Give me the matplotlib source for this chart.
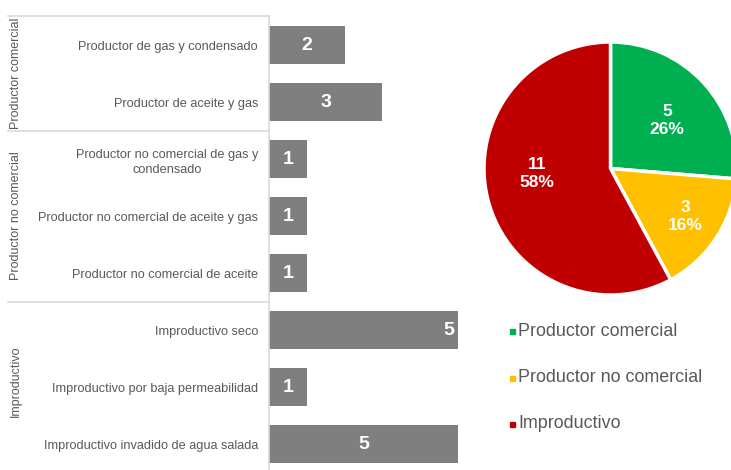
import numpy as np
import matplotlib.pyplot as plt
from matplotlib.patches import Rectangle

plt.rcParams['font.family'] = ['Liberation Sans', 'DejaVu Sans']

# datos
categorias = ['Productor de gas y condensado',
              'Productor de aceite y gas',
              'Productor no comercial de gas y\ncondensado',
              'Productor no comercial de aceite y gas',
              'Productor no comercial de aceite',
              'Improductivo seco',
              'Improductivo por baja permeabilidad',
              'Improductivo invadido de agua salada']
valores = [2, 3, 1, 1, 1, 5, 1, 5]
grupos = ['Productor comercial', 'Productor no comercial', 'Improductivo']
grupo_filas = [2, 3, 3]
pie_valores = [5, 3, 11]
pie_colores = ['#00b050', '#ffc000', '#c00000']
pos_etiqueta = ['c', 'c', 'c', 'c', 'c', 'e', 'c', 'c']

W, H = 731, 470
gris = '#595959'
linea = '#d9d9d9'

fig = plt.figure(figsize=(W / 100, H / 100), dpi=100)

# barras
x0, x1 = 269, 458
y_top, y_bot = 16.5, 470
ax = fig.add_axes([x0 / W, 1 - y_bot / H, (x1 - x0) / W, (y_bot - y_top) / H])
y = np.arange(len(valores))
ax.barh(y, valores, height=0.67, color='#7f7f7f')
ax.set_xlim(0, 5)
ax.set_ylim(7.456, -0.5)
ax.set_xticks([])
ax.set_yticks(y)
ax.set_yticklabels(categorias, fontsize=9.2, color=gris)
for t in ax.get_yticklabels():
    t.set_multialignment('center')
    t.set_linespacing(1.35)
ax.tick_params(axis='y', length=0, pad=8)
for s in ['top', 'right', 'bottom']:
    ax.spines[s].set_visible(False)
ax.spines['left'].set_color(linea)
ax.spines['left'].set_linewidth(1.2)

for i, v in enumerate(valores):
    xv = v / 2 if pos_etiqueta[i] == 'c' else v - 0.25
    ax.text(xv, i, str(v), color='white', fontsize=14, fontweight='bold',
            ha='center', va='center')

# separadores de grupo y etiquetas
tr = ax.get_yaxis_transform()
xl = (8 - x0) / (x1 - x0)
inicio = -0.5
for g, n in zip(grupos, grupo_filas):
    ax.plot([xl, 0], [inicio, inicio], color=linea, lw=1.2,
            transform=tr, clip_on=False)
    fin = inicio + n
    centro = (inicio + min(fin, 7.3)) / 2
    ax.text((15.5 - x0) / (x1 - x0), centro, g, rotation=90, fontsize=9,
            color=gris, ha='center', va='center', transform=tr)
    inicio = fin

# pastel
cx, cy, r = 610.5, 168.5, 126.5
axp = fig.add_axes([(cx - r) / W, 1 - (cy + r) / H, 2 * r / W, 2 * r / H])
total = sum(pie_valores)
wedges, _, autot = axp.pie(
    pie_valores, colors=pie_colores, startangle=90, counterclock=False,
    autopct=lambda p: '%d\n%d%%' % (round(p * total / 100), round(p)),
    pctdistance=0.6,
    wedgeprops=dict(edgecolor='white', linewidth=2.5),
    textprops=dict(color='white', fontsize=12.5, fontweight='bold'))
pos_pct = [(0.447, 0.383), (0.589, -0.383), (-0.581, -0.036)]
for t, p in zip(autot, pos_pct):
    t.set_linespacing(1.25)
    t.set_position(p)
axp.set_xlim(-1, 1)
axp.set_ylim(-1, 1)

# leyenda
ley_y = [331, 378, 424]
for g, c, yy in zip(grupos, pie_colores, ley_y):
    fig.patches.append(Rectangle((509.5 / W, 1 - (yy + 2.5) / H), 5 / W, 5 / H,
                                 color=c, transform=fig.transFigure))
    fig.text(518 / W, 1 - yy / H, g, fontsize=12.9, color=gris,
             ha='left', va='center')

fig.savefig('out.png', dpi=100)
